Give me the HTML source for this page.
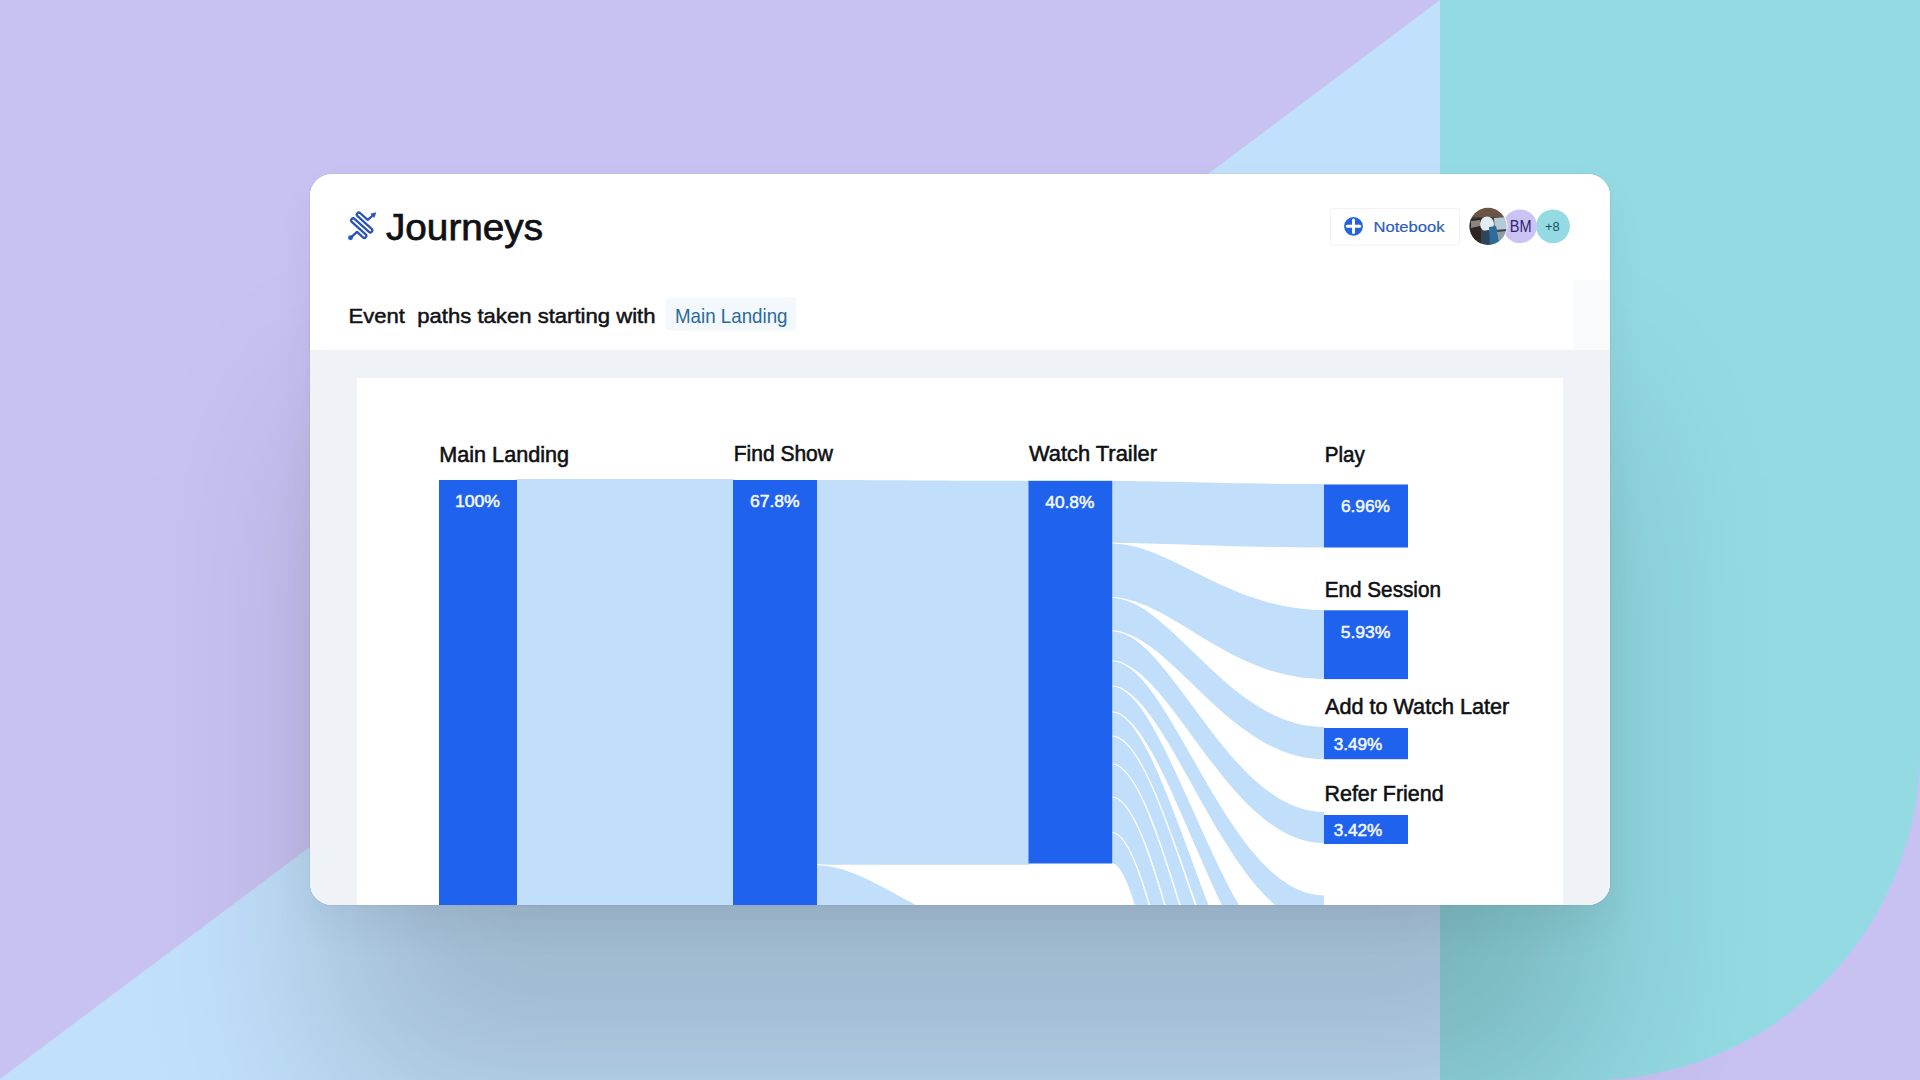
<!DOCTYPE html>
<html><head><meta charset="utf-8">
<style>
html,body{margin:0;padding:0;width:1920px;height:1080px;overflow:hidden;background:#c8c2f3;}
*{box-sizing:border-box;}
#bg{position:absolute;left:0;top:0;width:1920px;height:1080px;}
#teal{position:absolute;left:1440px;top:0;width:480px;height:1080px;background:#93dae3;border-bottom-right-radius:330px;}
#card{position:absolute;left:310px;top:174px;width:1300px;height:731px;background:#fff;border-radius:22px;overflow:hidden;
 box-shadow:0 0 2px rgba(0,0,0,0.12), 0 20px 40px rgba(0,0,0,0.06), 0 215px 180px -25px rgba(0,0,0,0.18);}
#card svg{position:absolute;left:0;top:0;}
text{font-family:"Liberation Sans",Arial,sans-serif;}
</style></head>
<body>
<svg id="bg" width="1920" height="1080" viewBox="0 0 1920 1080">
 <rect x="0" y="0" width="1920" height="1080" fill="#c8c2f3"/>
 <polygon points="1440,0 1441,0 1441,1080 0,1080 0,1079" fill="#c1e0fb"/>
</svg>
<div id="teal"></div>
<div id="card">
<svg width="1300" height="731" viewBox="310 174 1300 731">
 <!-- header white -->
 <rect x="310" y="174" width="1300" height="731" fill="#fff"/>
 <rect x="1573.5" y="280" width="36.5" height="70" fill="#f8fafc"/>
 <!-- gray area -->
 <rect x="310" y="350" width="1300" height="560" fill="#eff3f8"/>
 <!-- chart panel -->
 <rect x="357" y="378" width="1206" height="560" fill="#fff"/>

 <!-- Journeys icon -->
 <g transform="translate(344 207) scale(0.033333)">
  <circle cx="195" cy="925" r="74" fill="#2563d8"/>
  <path d="M195,925 L390,748 L569,910 A60.5,60.5 0 0 0 650,820 L234,445 A60.5,60.5 0 0 1 315,355 L748,745 A60.5,60.5 0 0 0 829,655 L400,269 A60.5,60.5 0 0 1 481,180 L711,388 L880,240"
    fill="none" stroke="#2b52b5" stroke-width="68" stroke-linejoin="round" stroke-linecap="round"/>
  <polygon points="960,170 904,318 805,205" fill="#2b52b5" stroke="#2b52b5" stroke-width="16" stroke-linejoin="round"/>
 </g>
 <text x="386" y="240.3" font-size="37" fill="#101114" stroke="#101114" stroke-width="0.75" textLength="157" lengthAdjust="spacingAndGlyphs">Journeys</text>

 <!-- Notebook button -->
 <rect x="1330.5" y="208.5" width="129" height="36.5" rx="2" fill="#fff" stroke="#f0f2f5" stroke-width="1"/>
 <circle cx="1353.5" cy="226.3" r="9.4" fill="#2462e0"/>
 <path d="M1347.2,226.3 H1359.8 M1353.5,220 V232.6" stroke="#fff" stroke-width="3" stroke-linecap="round"/>
 <text x="1373.5" y="231.9" font-size="15.5" fill="#2d5cb8" stroke="#2d5cb8" stroke-width="0.2" textLength="71" lengthAdjust="spacingAndGlyphs">Notebook</text>

 <!-- avatars -->
 <circle cx="1553" cy="226.3" r="16.9" fill="#93dae3"/>
 <text x="1545" y="231.3" font-size="13" fill="#144f5e" textLength="14.7" lengthAdjust="spacingAndGlyphs">+8</text>
 <circle cx="1520" cy="226.3" r="16.9" fill="#cbc3f4"/>
 <text x="1509.8" y="231.6" font-size="16" fill="#2e2470" textLength="21.8" lengthAdjust="spacingAndGlyphs">BM</text>
 <circle cx="1488" cy="226.4" r="19.4" fill="#fff"/>
 <clipPath id="pc"><circle cx="1488" cy="226.4" r="18.6"/></clipPath>
 <filter id="pb" x="-10%" y="-10%" width="120%" height="120%"><feGaussianBlur stdDeviation="0.7"/></filter>
 <g clip-path="url(#pc)"><g filter="url(#pb)">
  <rect x="1465" y="203" width="46" height="47" fill="#4a403a"/>
  <rect x="1469" y="207" width="38" height="10" fill="#6a5445"/>
  <path d="M1469,219 L1481,218 L1481,246 L1469,246 Z" fill="#2e2622"/>
  <path d="M1471,221 L1480,220 L1480,226 L1471,228 Z" fill="#8d8580"/>
  <path d="M1494,218 L1507,217 L1507,229 L1495,230 Z" fill="#b4cad8"/>
  <ellipse cx="1487" cy="224" rx="7" ry="7.5" fill="#e4ecf3"/>
  <path d="M1482,231 L1489,230 L1490,246 L1482,246 Z" fill="#2a4560"/>
  <path d="M1489,227 L1496,226 L1500,243 L1490,244 Z" fill="#2d6c9c"/>
  <path d="M1497,232 L1507,231 L1507,240 L1499,242 Z" fill="#8f9ea8"/>
 </g></g>

 <!-- Event paths row -->
 <text x="348.5" y="322.6" font-size="21" fill="#111215" stroke="#111215" stroke-width="0.5" textLength="307" lengthAdjust="spacingAndGlyphs" style="white-space:pre">Event  paths taken starting with</text>
 <rect x="665.5" y="297.5" width="131" height="33" rx="3" fill="#f3f8fc"/>
 <text x="675" y="322.6" font-size="21" fill="#2b6a9c" textLength="112.5" lengthAdjust="spacingAndGlyphs">Main Landing</text>

 <!-- Sankey -->
 <g fill="#c1dffa">
  <rect x="516" y="479" width="218" height="500"/>
  <path d="M816,480 C875,480 933,480.8 1030,480.8 L1030,864.8 L816,864.8 Z"/>
  <path d="M816,864.8 C875.6,864.8 933.1,937.2 1029,937.2 L1029,1400 C933.1,1400 875.6,1300 816,1300 Z"/>
  <path d="M1111,481 C1170.6,481 1228.2,484 1324,484 L1324,547.5 C1228.2,547.5 1170.6,543 1111,543 Z"/>
  <path d="M1111,543 C1170.6,543 1228.2,609.5 1324,609.5 L1324,679 C1228.2,679 1170.6,597.5 1111,597.5 Z"/>
  <path d="M1111,597.5 C1170.6,597.5 1228.2,726.5 1324,726.5 L1324,759.2 C1228.2,759.2 1170.6,630.8 1111,630.8 Z"/>
  <path d="M1111,630.8 C1170.6,630.8 1228.2,811.5 1324,811.5 L1324,843 C1228.2,843 1170.6,660.8 1111,660.8 Z"/>
  <path d="M1111,660.8 C1170.6,660.8 1228.2,895 1324,895 L1324,926.1 C1228.2,926.1 1170.6,686 1111,686 Z"/>
  <path d="M1111,686 C1170.6,686 1228.2,982.7 1324,982.7 L1324,1019.6 C1228.2,1019.6 1170.6,711.7 1111,711.7 Z"/>
  <path d="M1111,711.7 C1170.6,711.7 1228.2,1073.6 1324,1073.6 L1324,1114.1 C1228.2,1114.1 1170.6,736 1111,736 Z"/>
  <path d="M1111,736 C1170.6,736 1228.2,1125.9 1324,1125.9 L1324,1196.6 C1228.2,1196.6 1170.6,764 1111,764 Z"/>
  <path d="M1111,764 C1170.6,764 1228.2,1209.7 1324,1209.7 L1324,1291.4 C1228.2,1291.4 1170.6,797 1111,797 Z"/>
  <path d="M1111,797 C1170.6,797 1228.2,1312.2 1324,1312.2 L1324,1434.1 C1228.2,1434.1 1170.6,832.5 1111,832.5 Z"/>
  <path d="M1111,832.5 C1170.6,832.5 1228.2,1469.4 1324,1469.4 L1324,1722.3 C1228.2,1722.3 1170.6,863 1111,863 Z"/>
 </g>
 <g fill="none" stroke="#fff" stroke-width="1.1">
  <path d="M1112,543 C1171.4,543 1228.6,609.5 1324,609.5"/>
  <path d="M1112,597.5 C1171.4,597.5 1228.6,726.5 1324,726.5"/>
  <path d="M1112,630.8 C1171.4,630.8 1228.6,811.5 1324,811.5"/>
  <path d="M1112,660.8 C1171.4,660.8 1228.6,895 1324,895"/>
  <path d="M1112,686 C1171.4,686 1228.6,982.7 1324,982.7"/>
  <path d="M1112,711.7 C1171.4,711.7 1228.6,1073.6 1324,1073.6"/>
  <path d="M1112,736 C1171.4,736 1228.6,1125.9 1324,1125.9"/>
  <path d="M1112,764 C1171.4,764 1228.6,1209.7 1324,1209.7"/>
  <path d="M1112,797 C1171.4,797 1228.6,1312.2 1324,1312.2"/>
  <path d="M1112,832.5 C1171.4,832.5 1228.6,1469.4 1324,1469.4"/>
  <path d="M817,864.8 C876.4,864.8 933.6,937.2 1029,937.2"/>
 </g>
 <g fill="#1f62ee">
  <rect x="439" y="480" width="78" height="500"/>
  <rect x="733" y="480" width="84" height="500"/>
  <rect x="1028.5" y="480.8" width="83.7" height="382.7"/>
  <rect x="1324" y="484.5" width="84" height="63"/>
  <rect x="1324" y="610.3" width="84" height="68.8"/>
  <rect x="1324" y="728" width="84" height="31.2"/>
  <rect x="1324" y="815" width="84" height="29"/>
 </g>
 <g font-size="21.2" fill="#0f1013" stroke="#0f1013" stroke-width="0.55">
  <text x="439.30" y="461.9" textLength="129.70" lengthAdjust="spacingAndGlyphs">Main Landing</text>
  <text x="733.70" y="461.2" textLength="99.30" lengthAdjust="spacingAndGlyphs">Find Show</text>
  <text x="1028.90" y="460.5" textLength="128.10" lengthAdjust="spacingAndGlyphs">Watch Trailer</text>
  <text x="1324.70" y="461.5" textLength="40.10" lengthAdjust="spacingAndGlyphs">Play</text>
  <text x="1324.70" y="596.7" textLength="116.30" lengthAdjust="spacingAndGlyphs">End Session</text>
  <text x="1325.10" y="714.4" textLength="184.10" lengthAdjust="spacingAndGlyphs">Add to Watch Later</text>
  <text x="1324.50" y="801" textLength="119.10" lengthAdjust="spacingAndGlyphs">Refer Friend</text>
 </g>
 <g font-size="16.2" fill="#f4f8ff" stroke="#f4f8ff" stroke-width="0.5">
  <text x="454.90" y="507.1" textLength="45.10" lengthAdjust="spacingAndGlyphs">100%</text>
  <text x="749.90" y="507.1" textLength="49.70" lengthAdjust="spacingAndGlyphs">67.8%</text>
  <text x="1045.30" y="507.6" textLength="49.10" lengthAdjust="spacingAndGlyphs">40.8%</text>
  <text x="1340.90" y="511.9" textLength="49.10" lengthAdjust="spacingAndGlyphs">6.96%</text>
  <text x="1340.70" y="638" textLength="49.70" lengthAdjust="spacingAndGlyphs">5.93%</text>
  <text x="1333.70" y="749.8" textLength="48.70" lengthAdjust="spacingAndGlyphs">3.49%</text>
  <text x="1333.70" y="835.6" textLength="48.70" lengthAdjust="spacingAndGlyphs">3.42%</text>
 </g>
</svg>
</div>
</body></html>
